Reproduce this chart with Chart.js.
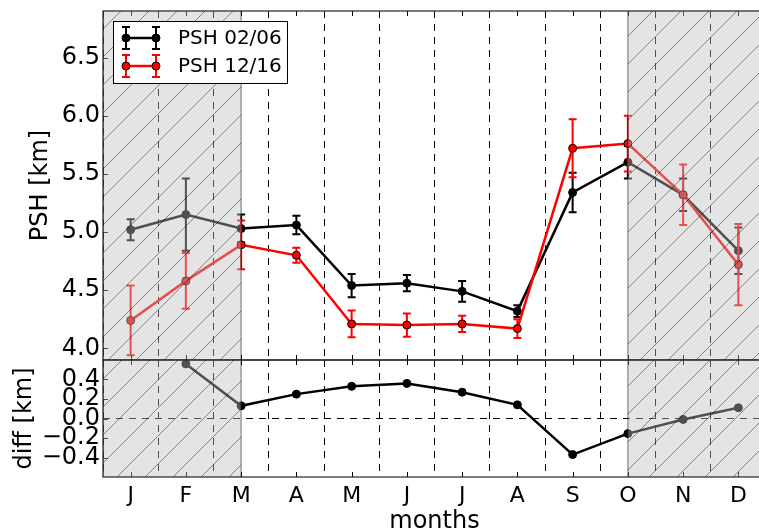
<!DOCTYPE html>
<html>
<head>
<meta charset="utf-8">
<script src="https://cdn.jsdelivr.net/npm/chart.js@4.4.1/dist/chart.umd.min.js"></script>
<style>
  html, body { margin: 0; padding: 0; background: #fff; overflow: hidden; }
  #wrap { position: relative; width: 759px; height: 532px; overflow: hidden; }
  canvas { position: absolute; left: 0; }
  #top { top: 0; }
  #bottom { top: 350px; }
</style>
</head>
<body>
<div id="wrap">
  <canvas id="top" width="770" height="370"></canvas>
  <canvas id="bottom" width="770" height="190"></canvas>
</div>
<script>
const months = ['J', 'F', 'M', 'A', 'M', 'J', 'J', 'A', 'S', 'O', 'N', 'D'];

// monthly mean PSH and its error, two periods
const psh0206 = [5.02, 5.15, 5.03, 5.06, 4.54, 4.56, 4.49, 4.32, 5.34, 5.60, 5.32, 4.84];
const err0206 = [0.09, 0.31, 0.12, 0.08, 0.10, 0.07, 0.09, 0.05, 0.17, 0.14, 0.14, 0.20];
const psh1216 = [4.24, 4.58, 4.89, 4.80, 4.21, 4.20, 4.21, 4.17, 5.72, 5.76, 5.32, 4.72];
const err1216 = [0.30, 0.24, 0.21, 0.065, 0.115, 0.10, 0.07, 0.08, 0.25, 0.24, 0.26, 0.35];

// 02/06 minus 12/16 (January falls outside the panel)
const pshDiff = [null, 0.56, 0.13, 0.25, 0.33, 0.36, 0.27, 0.14, -0.37, -0.155, -0.01, 0.11];

const pshTicks = [4.0, 4.5, 5.0, 5.5, 6.0, 6.5];
const diffTicks = [-0.4, -0.2, 0.0, 0.2, 0.4];

// month ranges greyed out (index units)
const shaded = [[-0.5, 2], [9, 11.5]];

Chart.defaults.font.family = "'DejaVu Sans', sans-serif";
Chart.defaults.color = '#000';
Chart.defaults.animation = false;

const fmt = v => (v < 0 ? '\u2212' : '') + Math.abs(v).toFixed(1);

// fixed axis box, no extra room for overhanging labels
const fixSize = (w, h) => s => {
  if (w != null) s.width = w;
  if (h != null) s.height = h;
  s.paddingTop = s.paddingBottom = s.paddingLeft = s.paddingRight = 0;
};

// vertical error bars under each dataset
const errorBars = {
  id: 'errorBars',
  beforeDatasetDraw(chart, args) {
    const ds = chart.data.datasets[args.index];
    if (!ds.errors) return;
    const {ctx, scales: {x, y}} = chart;
    ctx.save();
    ctx.strokeStyle = ds.borderColor;
    ctx.lineWidth = 2;
    ctx.beginPath();
    ds.data.forEach((v, i) => {
      if (v == null) return;
      const px = x.getPixelForValue(i);
      const lo = y.getPixelForValue(v - ds.errors[i]);
      const hi = y.getPixelForValue(v + ds.errors[i]);
      ctx.moveTo(px, lo); ctx.lineTo(px, hi);
      ctx.moveTo(px - 4, lo); ctx.lineTo(px + 4, lo);
      ctx.moveTo(px - 4, hi); ctx.lineTo(px + 4, hi);
    });
    ctx.stroke();
    ctx.restore();
  }
};

// inward ticks, hatched grey spans and the frame
const panelDeco = {
  id: 'panelDeco',
  afterDatasetsDraw(chart, args, opts) {
    const {ctx, chartArea: a, scales: {x, y}} = chart;
    ctx.save();
    ctx.strokeStyle = '#000';
    ctx.lineWidth = 1;
    ctx.beginPath();
    months.forEach((m, i) => {
      const px = Math.round(x.getPixelForValue(i)) + 0.5;
      ctx.moveTo(px, a.bottom); ctx.lineTo(px, a.bottom - 5);
      ctx.moveTo(px, a.top); ctx.lineTo(px, a.top + 5);
    });
    opts.ticks.forEach(v => {
      const py = Math.round(y.getPixelForValue(v)) + 0.5;
      ctx.moveTo(a.left, py); ctx.lineTo(a.left + 5, py);
    });
    ctx.stroke();

    ctx.beginPath();
    ctx.rect(a.left, a.top, a.right - a.left, a.bottom - a.top);
    ctx.clip();
    shaded.forEach(([from, to]) => {
      const x0 = x.getPixelForValue(from), x1 = x.getPixelForValue(to);
      ctx.fillStyle = 'rgba(190,190,190,0.42)';
      ctx.fillRect(x0, a.top, x1 - x0, a.bottom - a.top);

      ctx.save();
      ctx.beginPath();
      ctx.rect(x0, a.top, x1 - x0, a.bottom - a.top);
      ctx.clip();
      ctx.strokeStyle = 'rgba(0,0,0,0.6)';
      ctx.lineWidth = 0.7;
      ctx.beginPath();
      const step = 28;
      const start = Math.floor((x0 + a.top) / step) * step + 20 - step;
      for (let c = start; c < x1 + a.bottom + step; c += step) {
        ctx.moveTo(c - a.top, a.top);
        ctx.lineTo(c - a.bottom, a.bottom);
      }
      ctx.stroke();
      ctx.restore();

      ctx.strokeStyle = 'rgba(0,0,0,0.45)';
      ctx.lineWidth = 1.2;
      ctx.beginPath();
      [x0, x1].forEach(px => { ctx.moveTo(px, a.top); ctx.lineTo(px, a.bottom); });
      ctx.stroke();
    });
    ctx.restore();

    ctx.save();
    ctx.strokeStyle = '#222';
    ctx.lineWidth = 1.2;
    ctx.strokeRect(a.left, a.top, a.right - a.left, a.bottom - a.top);
    ctx.restore();
  }
};

// legend with error-bar symbols
const errLegend = {
  id: 'errLegend',
  afterDraw(chart) {
    const {ctx, chartArea: a} = chart;
    const bx = a.left + 10, by = a.top + 10, bw = 174, bh = 62;
    ctx.save();
    ctx.fillStyle = '#fff';
    ctx.fillRect(bx, by, bw, bh);
    ctx.strokeStyle = '#000';
    ctx.lineWidth = 1;
    ctx.strokeRect(bx + 0.5, by + 0.5, bw, bh);
    chart.data.datasets.forEach((ds, k) => {
      const cy = by + 17 + k * 28;
      const xs = [bx + 13, bx + 43];
      ctx.strokeStyle = ds.borderColor;
      ctx.lineWidth = 2.5;
      ctx.beginPath();
      ctx.moveTo(xs[0], cy); ctx.lineTo(xs[1], cy);
      ctx.stroke();
      ctx.lineWidth = 2;
      ctx.beginPath();
      xs.forEach(px => {
        ctx.moveTo(px, cy - 11); ctx.lineTo(px, cy + 11);
        ctx.moveTo(px - 4, cy - 11); ctx.lineTo(px + 4, cy - 11);
        ctx.moveTo(px - 4, cy + 11); ctx.lineTo(px + 4, cy + 11);
      });
      ctx.stroke();
      xs.forEach(px => {
        ctx.beginPath();
        ctx.arc(px, cy, 4, 0, Math.PI * 2);
        ctx.fillStyle = ds.pointBackgroundColor;
        ctx.fill();
        ctx.strokeStyle = '#000';
        ctx.lineWidth = 1;
        ctx.stroke();
      });
      ctx.fillStyle = '#000';
      ctx.font = "20px 'DejaVu Sans'";
      ctx.textBaseline = 'middle';
      ctx.fillText(ds.label, bx + 65, cy + 1);
    });
    ctx.restore();
  }
};

const xAxis = (showLabels, height) => ({
  type: 'category',
  offset: true,
  grid: { display: true, offset: true, drawTicks: false, color: '#000', lineWidth: 1 },
  border: { display: false, dash: [7, 6] },
  ticks: { display: showLabels, autoSkip: false, maxRotation: 0, padding: 6, font: { size: 22 } },
  title: { display: showLabels, text: 'months', font: { size: 24 }, padding: { top: 0, bottom: 4 } },
  afterFit: fixSize(null, height)
});

new Chart(document.getElementById('top'), {
  type: 'line',
  data: {
    labels: months,
    datasets: [{
      label: 'PSH 02/06',
      data: psh0206,
      errors: err0206,
      borderColor: '#000',
      pointBackgroundColor: '#000',
      pointBorderColor: '#000',
      order: 1
    }, {
      label: 'PSH 12/16',
      data: psh1216,
      errors: err1216,
      borderColor: '#ff0000',
      pointBackgroundColor: '#ff0000',
      pointBorderColor: '#000',
      order: 0
    }]
  },
  options: {
    responsive: false,
    layout: { autoPadding: false, padding: { left: 22, top: 11, right: 4, bottom: 0 } },
    elements: {
      line: { borderWidth: 2.5, tension: 0 },
      point: { radius: 4, borderWidth: 1, hoverRadius: 4 }
    },
    datasets: { line: { clip: 0 } },
    scales: {
      x: xAxis(false, 10),
      y: {
        min: 3.9, max: 6.9,
        grid: { display: false, drawTicks: false },
        border: { display: false },
        afterBuildTicks: s => { s.ticks = pshTicks.map(value => ({ value })); },
        ticks: { callback: fmt, padding: 3, font: { size: 24 } },
        title: { display: true, text: 'PSH [km]', font: { size: 24 } },
        afterFit: fixSize(81, null)
      }
    },
    plugins: {
      legend: { display: false },
      tooltip: { enabled: false },
      panelDeco: { ticks: pshTicks }
    }
  },
  plugins: [errorBars, panelDeco, errLegend]
});

new Chart(document.getElementById('bottom'), {
  type: 'line',
  data: {
    labels: months,
    datasets: [{
      label: 'diff',
      data: pshDiff,
      borderColor: '#000',
      pointBackgroundColor: '#000',
      pointBorderColor: '#000'
    }]
  },
  options: {
    responsive: false,
    layout: { autoPadding: false, padding: { left: 6, top: 10, right: 4, bottom: 0 } },
    elements: {
      line: { borderWidth: 2.5, tension: 0 },
      point: { radius: 4, borderWidth: 1, hoverRadius: 4 }
    },
    datasets: { line: { clip: 0 } },
    scales: {
      x: xAxis(true, 63),
      y: {
        min: -0.6, max: 0.6,
        grid: {
          drawTicks: false,
          color: c => (c.tick && c.tick.value === 0 ? '#000' : 'rgba(0,0,0,0)'),
          lineWidth: 1
        },
        border: { display: false, dash: [7, 6] },
        afterBuildTicks: s => { s.ticks = diffTicks.map(value => ({ value })); },
        ticks: { callback: fmt, autoSkip: false, padding: 3, font: { size: 24 } },
        title: { display: true, text: 'diff [km]', font: { size: 24 } },
        afterFit: fixSize(97, null)
      }
    },
    plugins: {
      legend: { display: false },
      tooltip: { enabled: false },
      panelDeco: { ticks: diffTicks }
    }
  },
  plugins: [panelDeco]
});
</script>
</body>
</html>
